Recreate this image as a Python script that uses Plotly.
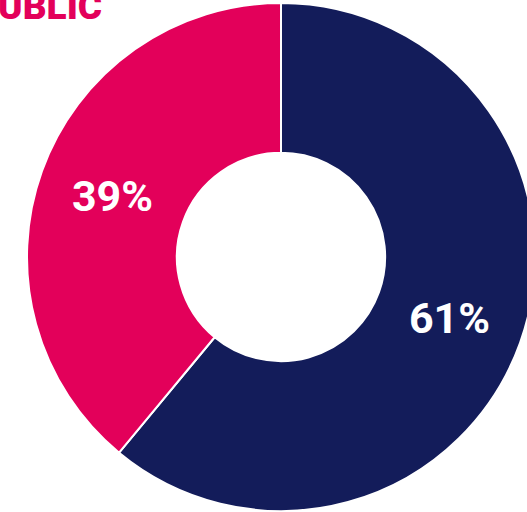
import plotly.graph_objects as go

labels = ["Yes", "No"]
values = [61, 39]
colors = ["#131c5a", "#e3005a"]
title_text = "PUBLIC"

W, H = 562, 514
cx, cy, R = 281, 257, 254

fig = go.Figure(go.Pie(
    labels=labels,
    values=values,
    hole=0.41,
    sort=False,
    direction="clockwise",
    rotation=0,
    marker=dict(colors=colors, line=dict(color="white", width=2)),
    texttemplate="%{percent:.0%}",
    textposition="inside",
    insidetextorientation="horizontal",
    textfont=dict(family="Roboto", size=43, color="white", weight="bold"),
    domain=dict(x=[(cx - R) / W, (cx + R) / W], y=[(H - cy - R) / H, (H - cy + R) / H]),
    showlegend=False,
    hoverinfo="skip",
))

fig.add_annotation(
    text=title_text, xref="paper", yref="paper",
    x=104 / W, y=1 - 30 / H, xanchor="right", yanchor="bottom",
    showarrow=False,
    font=dict(family="Roboto", size=37, color="#e3005a", weight=900),
)

fig.update_layout(
    width=W, height=H,
    margin=dict(l=0, r=0, t=0, b=0),
    paper_bgcolor="white", plot_bgcolor="white",
)

fig.write_html(
    "out.html",
    config={"displayModeBar": False},
    post_script="document.body.style.margin='0';document.body.style.overflow='hidden';document.documentElement.style.overflow='hidden';",
)
